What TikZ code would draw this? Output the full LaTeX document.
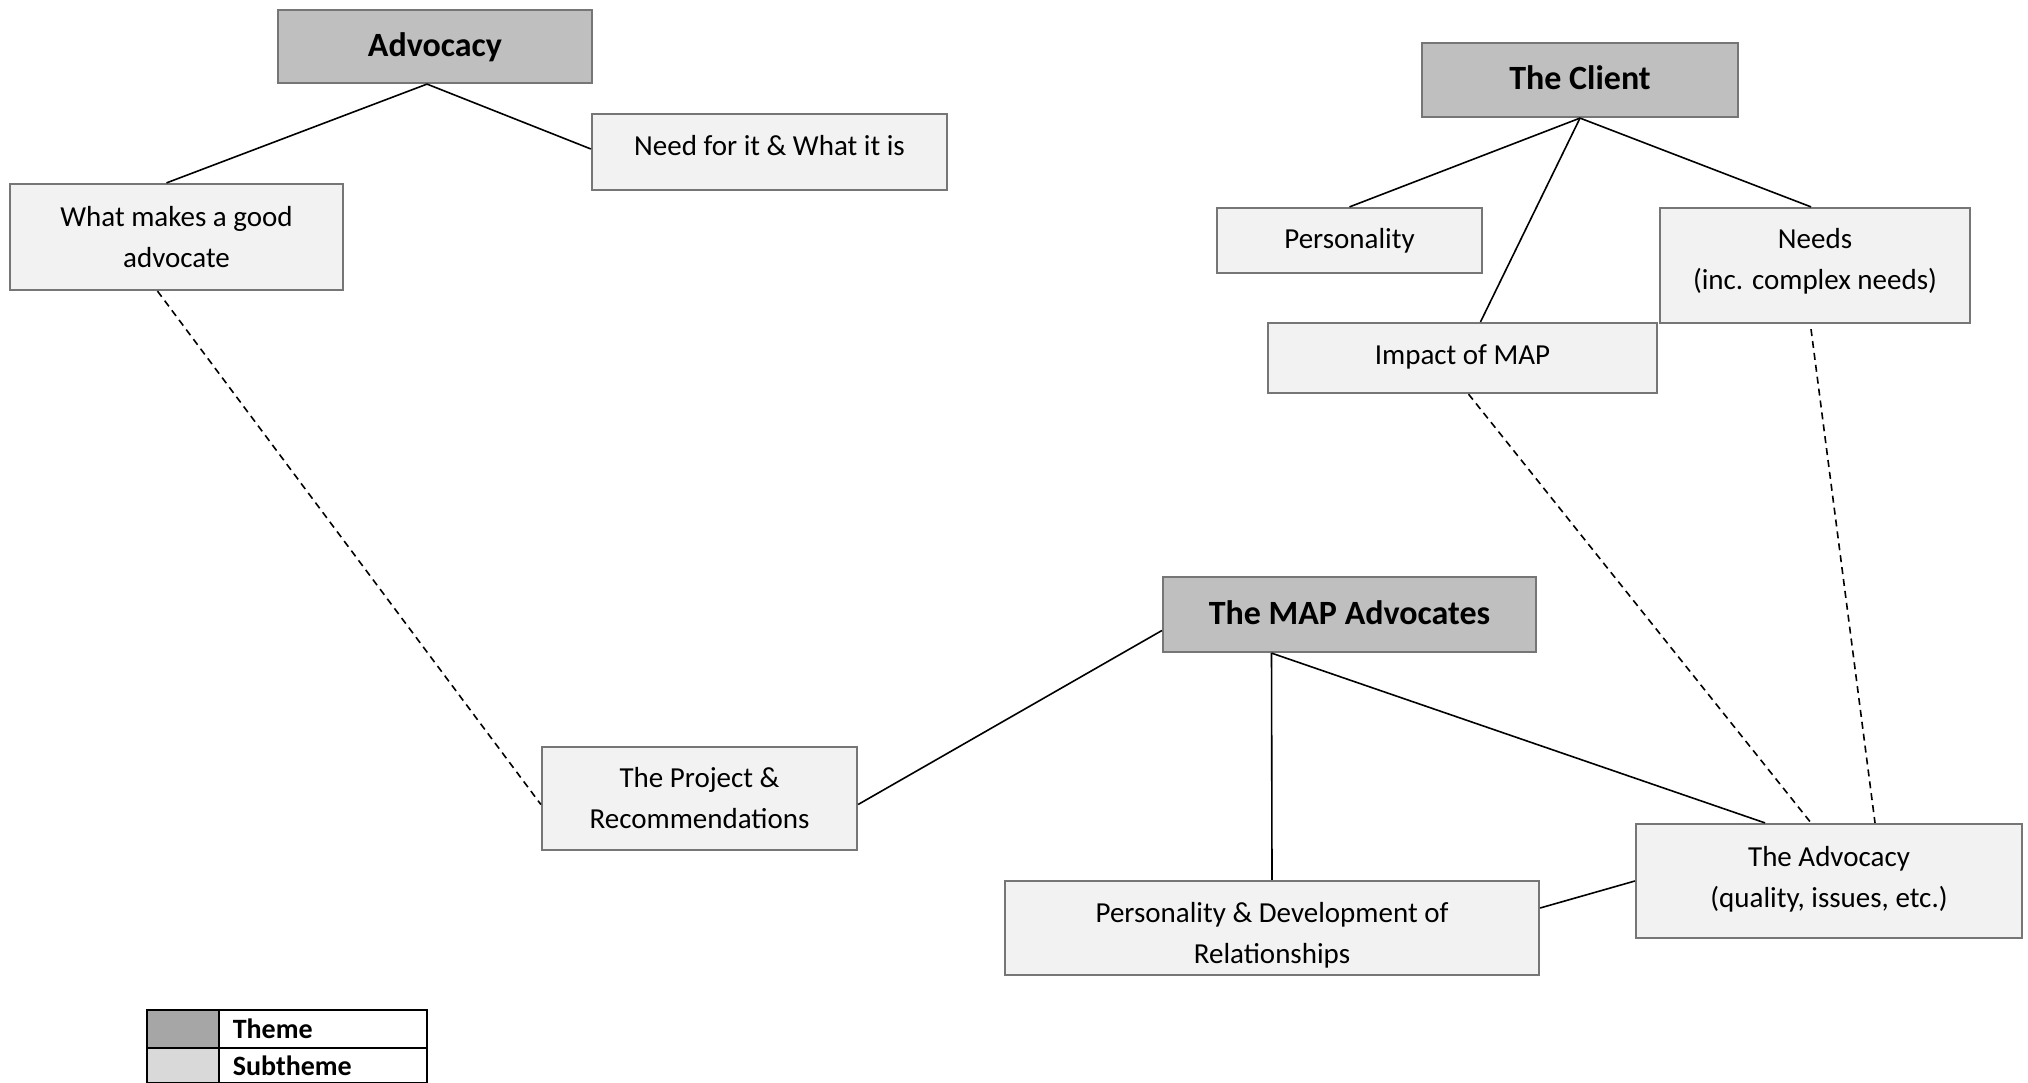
\documentclass[tikz,border=0pt]{standalone}
\usepackage{fontspec}
\setmainfont{Carlito}
\definecolor{themefill}{HTML}{BFBFBF}
\definecolor{subfill}{HTML}{F2F2F2}
\definecolor{boxborder}{HTML}{767676}
\definecolor{legdark}{HTML}{A6A6A6}
\definecolor{leglight}{HTML}{D9D9D9}
\begin{document}
\begin{tikzpicture}[x=1pt,y=-1pt,
  theme/.style={draw=boxborder, line width=2.2pt, fill=themefill, inner sep=0pt},
  sub/.style={draw=boxborder, line width=2.2pt, fill=subfill, inner sep=0pt},
  themetext/.style={inner sep=0pt, align=center, font=\fontsize{34}{40}\selectfont\bfseries},
  subtext/.style={inner sep=0pt, align=center, font=\fontsize{29}{41}\selectfont},
  link/.style={line width=1.6pt, black},
  dlink/.style={link, dash pattern=on 7pt off 5pt},
  legswatch/.style={draw=black, line width=1.6pt, inner sep=0pt, anchor=north west, minimum width=72pt},
  legcell/.style={draw=black, line width=1.6pt, inner xsep=14pt, inner ysep=0pt, text width=180pt, align=left,
    anchor=north west, font=\fontsize{28}{32}\selectfont\bfseries}
]
\useasboundingbox (0,0) rectangle (2028,1083);
\fill[white] (0,0) rectangle (2028,1083);

% theme boxes
\node[theme, minimum width=314pt, minimum height=73pt] (adv) at (435,46.5) {};
\node[theme, minimum width=316pt, minimum height=74pt] (client) at (1580,80) {};
\node[theme, minimum width=373pt, minimum height=75pt] (map) at (1349.5,614.5) {};
\node[themetext] (advt) at (435,47) {Advocacy};
\node[themetext] (clientt) at (1580,78) {The Client};
\node[themetext] (mapt) at (1349.5,612.5) {The MAP Advocates};

% subtheme boxes
\node[sub, minimum width=355pt, minimum height=76pt] (need) at (769.5,152) {};
\node[sub, minimum width=333pt, minimum height=106pt] (good) at (176.5,237) {};
\node[sub, minimum width=265pt, minimum height=65pt] (pers) at (1349.5,240.5) {};
\node[sub, minimum width=310pt, minimum height=115pt] (needs) at (1815,265.5) {};
\node[sub, minimum width=389pt, minimum height=70pt] (impact) at (1462.5,358) {};
\node[sub, minimum width=386pt, minimum height=114pt] (advo) at (1829,881) {};
\node[sub, minimum width=534pt, minimum height=94pt] (persdev) at (1272,928) {};
\node[sub, minimum width=315pt, minimum height=103pt] (project) at (699.5,798.5) {};

% subtheme texts
\node[subtext] (needt) at (769.5,146) {Need for it \& What it is};
\node[subtext] (goodt) at (176.5,237) {What makes a good\\advocate};
\node[subtext] (perst) at (1349.5,240.5) {Personality};
\node[subtext] (needst) at (1815,261) {Needs\\(inc. complex needs)};
\node[subtext] (impactt) at (1462.5,357) {Impact of MAP};
\node[subtext] (advot) at (1829,879.5) {The Advocacy\\(quality, issues, etc.)};
\node[subtext] (persdevt) at (1272,935) {Personality \& Development of\\Relationships};
\node[subtext] (projectt) at (699.5,798.5) {The Project \&\\Recommendations};

% solid connectors
\draw[link] ([xshift=-8pt]adv.south) -- ([xshift=-10pt]good.north);
\draw[link] ([xshift=-8pt]adv.south) -- ([yshift=3pt]need.west);
\draw[link] (client.south) -- (pers.north);
\draw[link] (client.south) -- ([xshift=18pt]impact.north);
\draw[link] (client.south) -- ([xshift=-4pt]needs.north);
\draw[link] ([yshift=-16pt]map.west) -- ([yshift=-6pt]project.east);
\draw[link] ([xshift=-78pt]map.south) -- (persdev.north);
\draw[link] ([xshift=-78pt]map.south) -- ([xshift=-64pt]advo.north);
\draw[link] ([yshift=20pt]persdev.east) -- (advo.west);

% dashed connectors
\draw[dlink] ([xshift=6pt]impact.south) -- ([xshift=-18pt]advo.north);
\draw[dlink] ([xshift=-4pt,yshift=-5pt]needs.south) -- ([xshift=46pt]advo.north);
\draw[dlink] ([xshift=-19pt]good.south) -- ([yshift=-6pt]project.west);

% legend
\node[legswatch, fill=legdark, minimum height=38pt] (legthemesw) at (146,1009) {};
\node[legcell, minimum height=38pt] (legtheme) at (218,1009) {Theme};
\node[legswatch, fill=leglight, minimum height=35pt] (legsubsw) at (146,1047) {};
\node[legcell, minimum height=35pt] (legsub) at (218,1047) {Subtheme};
\end{tikzpicture}
\end{document}
